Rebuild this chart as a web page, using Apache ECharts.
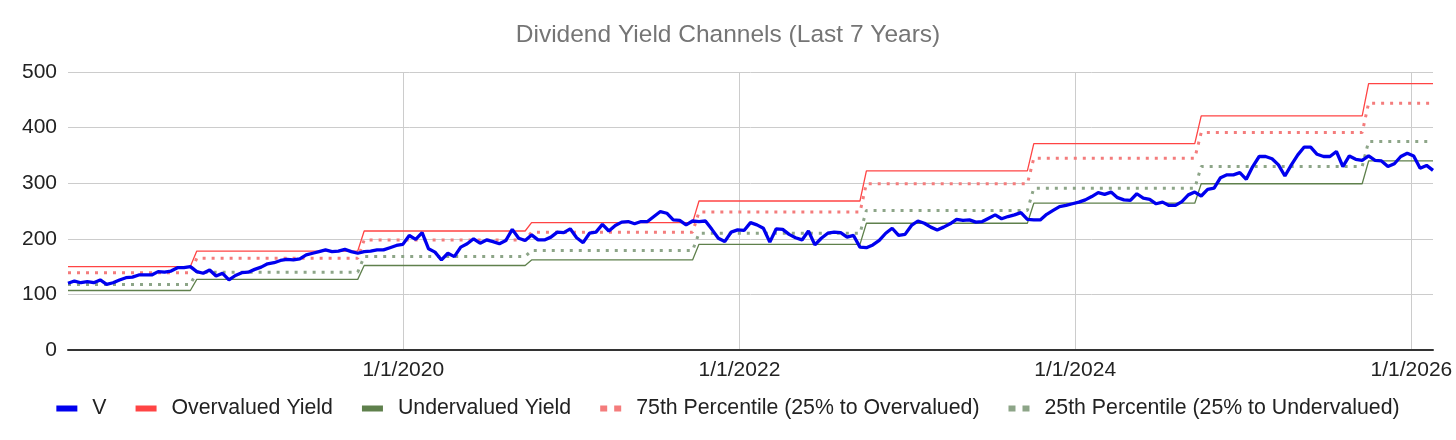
<!DOCTYPE html>
<html>
<head>
<meta charset="utf-8">
<title>Dividend Yield Channels</title>
<script src="https://cdn.jsdelivr.net/npm/echarts@6/dist/echarts.min.js"></script>
<style>
  html, body { margin: 0; padding: 0; background: #fff; }
  #chart { width: 1456px; height: 440px; }
</style>
</head>
<body>
<div id="chart"></div>
<script>
// V price, one reading every two weeks from the first date
var firstDate = '2018-01-02';
var stepDays = 14;
var vPrice = [
  120, 124, 121, 123, 121, 126, 118, 121, 126, 130,
  131, 135, 135, 135, 141, 140, 142, 148, 148, 150,
  141, 138, 144, 133, 138, 126, 134, 139, 140, 145,
  149, 155, 157, 161, 163, 162, 164, 171, 174, 177,
  180, 177, 178, 181, 177, 174, 177, 178, 180, 180,
  184, 188, 190, 206, 199, 211, 182, 176, 162, 174,
  168, 185, 191, 200, 192, 198, 195, 191, 197, 217,
  201, 197, 207, 198, 198, 203, 212, 211, 218, 202,
  193, 210, 212, 226, 214, 224, 230, 231, 227, 231,
  231, 240, 249, 246, 234, 233, 225, 232, 231, 232,
  217, 201, 195, 212, 216, 215, 229, 225, 219, 194,
  218, 217, 208, 202, 198, 214, 189, 201, 210, 212,
  211, 203, 206, 185, 184, 189, 197, 210, 219, 206,
  208, 224, 232, 228, 221, 216, 221, 227, 235, 233,
  234, 230, 231, 237, 243, 236, 240, 243, 247, 235,
  234, 234, 244, 251, 258, 260, 263, 266, 270, 276,
  283, 280, 284, 274, 270, 269, 281, 273, 271, 263,
  266, 260, 260, 267, 279, 284, 277, 289, 291, 310,
  315, 315, 319, 307, 330, 348, 348, 344, 333, 313,
  333, 351, 365, 365, 352, 348, 348, 357, 330, 349,
  343, 341, 349, 341, 340, 330, 335, 348, 354, 349,
  327, 332, 323
];

// dividend periods (each level holds from start to end)
var levelStart = ['2018-01-02', '2018-10-09', '2019-10-08', '2020-10-06', '2021-10-05',
                  '2022-10-04', '2023-10-03', '2024-10-01', '2025-09-30'];
var levelEnd   = ['2018-09-25', '2019-09-24', '2020-09-22', '2021-09-21', '2022-09-20',
                  '2023-09-19', '2024-09-17', '2025-09-16', '2026-02-17'];
var overvalued  = [150, 178, 214, 229, 268, 322, 371, 421, 479];
var undervalued = [107, 127, 152, 162, 190, 228, 264, 299, 340];
var pct75       = [139, 165, 198, 212, 248, 299, 345, 391, 444];
var pct25       = [118, 140, 168, 179, 210, 251, 291, 330, 375];

var xTicks = ['2020-01-01', '2022-01-01', '2024-01-01', '2026-01-01'];
var lastDate = '2026-02-17';

var seriesNames = ['V', 'Overvalued Yield', 'Undervalued Yield',
                   '75th Percentile (25% to Overvalued)', '25th Percentile (25% to Undervalued)'];

var font = '"Liberation Sans", Arial, sans-serif';

function toTime(s) {
  var p = s.split('-');
  return Date.UTC(+p[0], +p[1] - 1, +p[2]);
}

function levelData(levels) {
  var out = [];
  levels.forEach(function (v, i) {
    out.push([toTime(levelStart[i]), v]);
    out.push([toTime(levelEnd[i]), v]);
  });
  return out;
}

var t0 = toTime(firstDate);
var vData = vPrice.map(function (v, i) {
  return [t0 + i * stepDays * 86400000, v];
});

var dotIcon = 'path://M0,0h7v6h-7zM14,0h7v6h-7z';

var chart = echarts.init(document.getElementById('chart'));
chart.setOption({
  animation: false,
  title: {
    text: 'Dividend Yield Channels (Last 7 Years)',
    left: 'center',
    top: 18,
    textStyle: { fontFamily: font, fontSize: 24.5, fontWeight: 'normal', color: '#757575' }
  },
  legend: {
    top: 393,
    left: 'center',
    itemWidth: 21,
    itemHeight: 6,
    itemGap: 29,
    textStyle: { fontFamily: font, fontSize: 21.3, color: '#222', padding: [0, 0, 0, 10] },
    data: [
      { name: seriesNames[0], icon: 'rect' },
      { name: seriesNames[1], icon: 'rect' },
      { name: seriesNames[2], icon: 'rect' },
      { name: seriesNames[3], icon: dotIcon },
      { name: seriesNames[4], icon: dotIcon }
    ]
  },
  grid: { left: 68, right: 23, top: 72, bottom: 90, outerBoundsMode: 'none' },
  xAxis: {
    type: 'value',
    min: t0,
    max: toTime(lastDate),
    axisLine: { onZero: false, lineStyle: { color: '#333', width: 2 } },
    axisTick: { show: false, customValues: xTicks.map(toTime) },
    axisLabel: {
      customValues: xTicks.map(toTime),
      fontFamily: font,
      fontSize: 21,
      color: '#222',
      margin: 10,
      formatter: function (val) {
        var d = new Date(val);
        return (d.getUTCMonth() + 1) + '/' + d.getUTCDate() + '/' + d.getUTCFullYear();
      }
    },
    splitLine: { show: true, lineStyle: { color: '#cccccc', width: 1 } }
  },
  yAxis: {
    type: 'value',
    min: 0,
    max: 500,
    interval: 100,
    axisLine: { show: false },
    axisTick: { show: false },
    axisLabel: { fontFamily: font, fontSize: 21, color: '#222', margin: 11 },
    splitLine: { lineStyle: { color: '#cccccc', width: 1 } }
  },
  series: [
    {
      name: seriesNames[1], type: 'line', data: levelData(overvalued), showSymbol: false,
      itemStyle: { color: '#ff4444' }, lineStyle: { color: '#ff4444', width: 1.3 }, z: 2
    },
    {
      name: seriesNames[2], type: 'line', data: levelData(undervalued), showSymbol: false,
      itemStyle: { color: '#5f804c' }, lineStyle: { color: '#5f804c', width: 1.3 }, z: 2
    },
    {
      name: seriesNames[3], type: 'line', data: levelData(pct75), showSymbol: false,
      itemStyle: { color: '#f47c7c' },
      lineStyle: { color: '#f47c7c', width: 3, type: [3, 6], cap: 'butt' }, z: 2
    },
    {
      name: seriesNames[4], type: 'line', data: levelData(pct25), showSymbol: false,
      itemStyle: { color: '#8da588' },
      lineStyle: { color: '#8da588', width: 3, type: [3, 6], cap: 'butt' }, z: 2
    },
    {
      name: seriesNames[0], type: 'line', data: vData, showSymbol: false,
      itemStyle: { color: '#0000ee' }, lineStyle: { color: '#0000ee', width: 3.3 }, z: 3
    }
  ]
});
</script>
</body>
</html>
